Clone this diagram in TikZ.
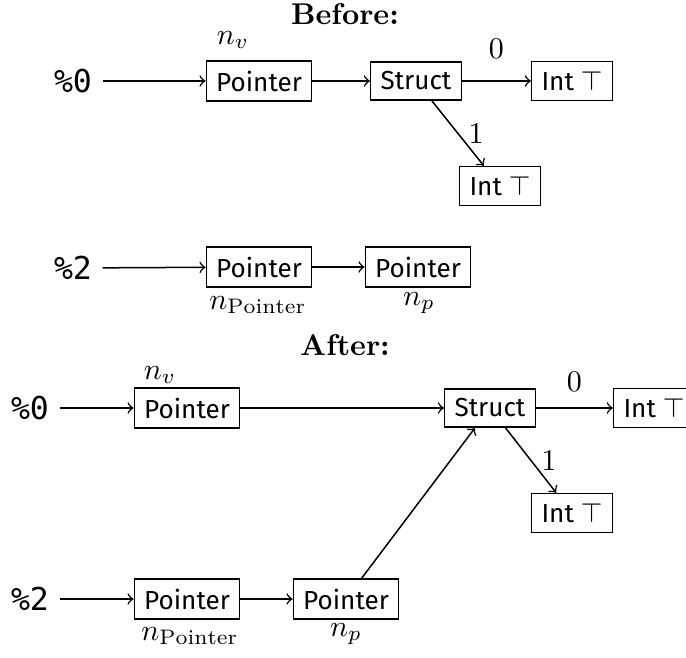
\documentclass[tikz,border=0pt]{standalone}
\usepackage{fontspec}
\setsansfont{Fira Sans}
\setmonofont{DejaVu Sans Mono}
\usepackage{tikz}
\tikzstyle{type}=[draw, font=\sffamily\fontsize{8.7}{10}\selectfont, minimum height=12pt, inner sep=3.3pt]
\tikzstyle{reg}=[font=\ttfamily\fontsize{10.5}{12}\selectfont]
\tikzstyle{title}=[font=\bfseries]

\begin{document}
\begin{tikzpicture}[x=0.3333pt, y=-0.3333pt, >=to, line width=0.5pt]
\useasboundingbox (0,0) rectangle (686,658);
% Before
    \node[title] (before) at (345,14) {Before:};
    \node[reg] (in0) at (73,81) {\%0};
    \node[type] (ptrA) at (259,81) {Pointer};
    \node[type] (structA) at (416,81) {Struct};
    \node[type] (intA) at (572,81) {Int $\top$};
    \node[type] (intB) at (500,186) {Int $\top$};
    \node[reg] (in2) at (73,268) {\%2};
    \node[type] (ptrB) at (259,267) {Pointer};
    \node[type] (ptrC) at (418,267) {Pointer};
%Labels
    \node (nvA) at (233,40) {$n_v$};
    \node (npointerA) at (258,305) {$n_\mathrm{Pointer}$};
    \node (npA) at (419,303) {$n_p$};
%Edges
    \draw[->] (in0) -- (ptrA);
    \draw[->] (ptrA) -- (structA);
    \draw[->] (structA) -- node[above=4pt] {$0$} (intA);
    \draw[->] (structA) -- node[right] {$1$} (intB);
    \draw[->] (in2) -- (ptrB);
    \draw[->] (ptrB) -- (ptrC);
% After
    \node[title] (after) at (345,345) {After:};
    \node[reg] (in0b) at (30,408) {\%0};
    \node[type] (ptrD) at (187,408) {Pointer};
    \node[type] (structB) at (490,408) {Struct};
    \node[type] (intC) at (654,408) {Int $\top$};
    \node[type] (intD) at (572,513) {Int $\top$};
    \node[reg] (in2b) at (30,599) {\%2};
    \node[type] (ptrE) at (187,599) {Pointer};
    \node[type] (ptrF) at (346,599) {Pointer};
%Labels
    \node (nvB) at (160,375) {$n_v$};
    \node (npointerB) at (190,636) {$n_\mathrm{Pointer}$};
    \node (npB) at (346,634) {$n_p$};
%Edges
    \draw[->] (in0b) -- (ptrD);
    \draw[->] (ptrD) -- (structB);
    \draw[->] (structB) -- node[above=2pt] {$0$} (intC);
    \draw[->] (structB) -- node[right] {$1$} (intD);
    \draw[->] (in2b) -- (ptrE);
    \draw[->] (ptrE) -- (ptrF);
    \draw[->] (ptrF) -- (structB);
\end{tikzpicture}
\end{document}
